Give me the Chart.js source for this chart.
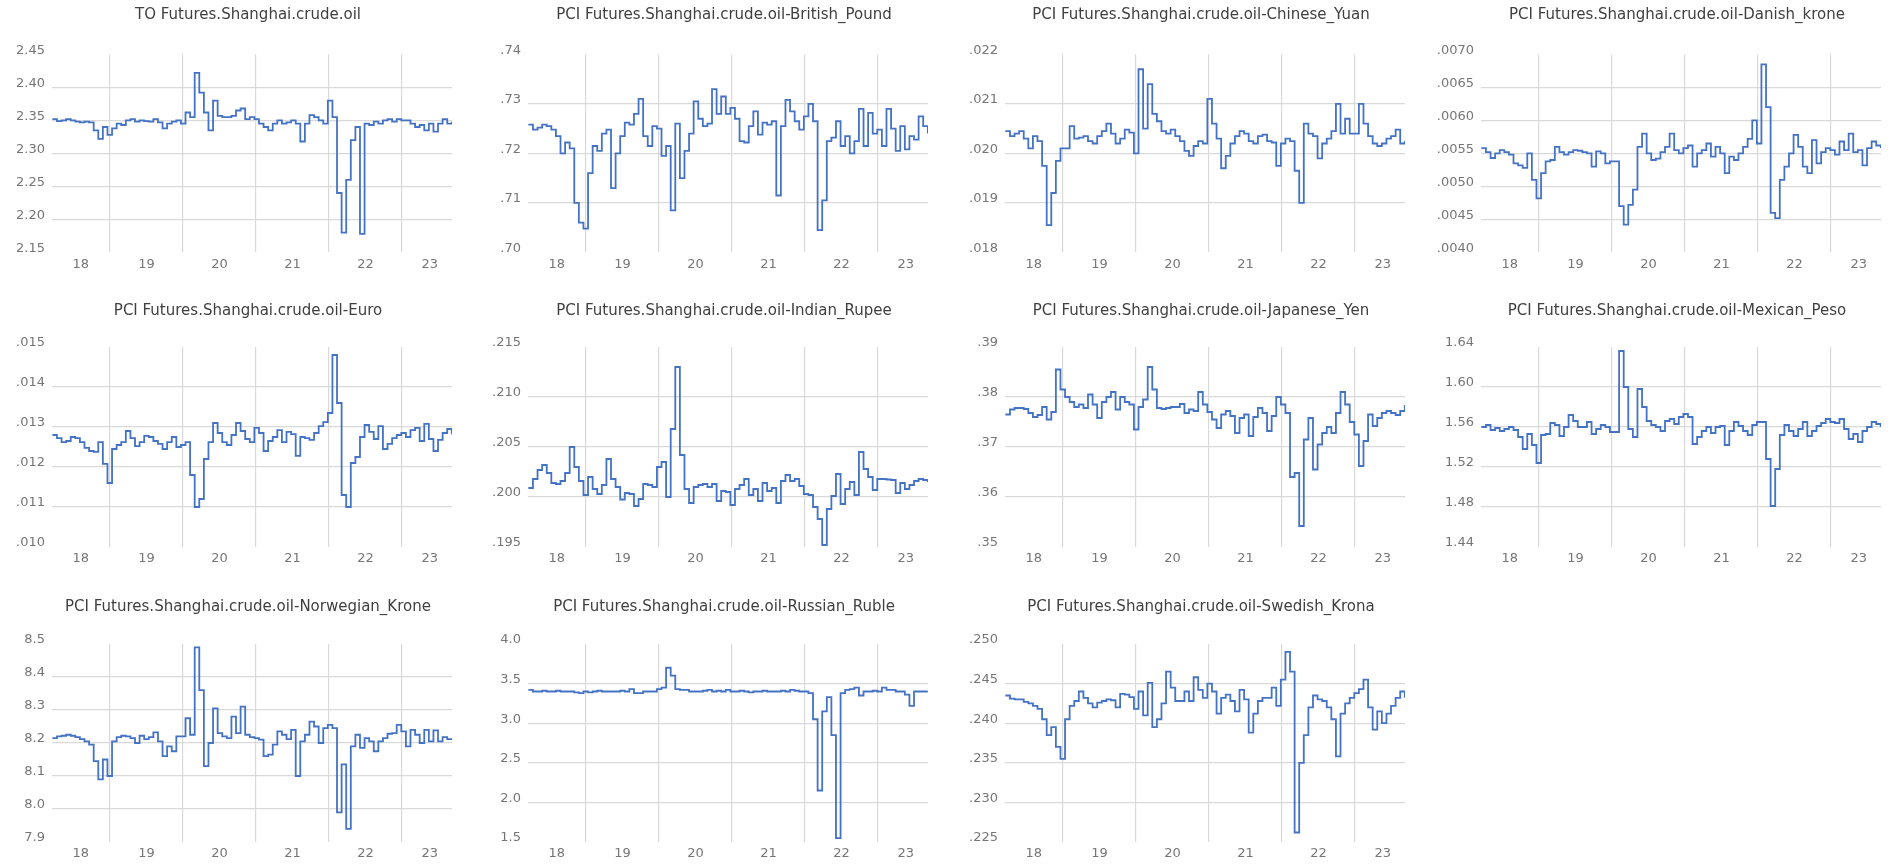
<!DOCTYPE html>
<html lang="en">
<head>
  <meta charset="UTF-8" />
  <title>PCI Futures - Shanghai crude oil</title>
  <script src="https://cdn.jsdelivr.net/npm/chart.js"></script>
  <style>
    * { box-sizing: border-box; margin: 0; padding: 0; }
    body {
      width: 1890px;
      height: 865px;
      background: #ffffff;
      position: relative;
      overflow: hidden;
      font-family: 'DejaVu Sans', sans-serif;
    }
    .panel {
      position: absolute;
      width: 496px;
    }
    .panel canvas { display: block; }
  </style>
</head>
<body>

  <script>
    // sampling of the series (decimal years), one value about every 23 days
    const firstSample = 2018.21;
    const sampleStep = 0.0629;

    // x axis: year boundaries and year labels
    const axisStart = 2018.205;
    const axisEnd = 2023.685;
    const yearLines = [2019, 2020, 2021, 2022, 2023];
    const yearLabels = ['18', '19', '20', '21', '22', '23'];
    const yearLabelAt = [2018.6, 2019.5, 2020.5, 2021.5, 2022.5, 2023.38];

    const seriesTO = [
      2.352, 2.349, 2.350, 2.352, 2.350, 2.348, 2.347, 2.348, 2.347, 2.335, 2.322, 2.340, 2.328,
      2.338, 2.345, 2.343, 2.350, 2.352, 2.348, 2.350, 2.349, 2.348, 2.352, 2.347, 2.338, 2.345, 2.348, 2.350, 2.345,
      2.362, 2.355, 2.422, 2.392, 2.362, 2.335, 2.380, 2.357, 2.355, 2.355, 2.357, 2.365, 2.368, 2.352, 2.355, 2.352,
      2.345, 2.340, 2.335, 2.345, 2.350, 2.345, 2.347, 2.350, 2.345, 2.318, 2.345, 2.358, 2.355, 2.350, 2.345, 2.380,
      2.355, 2.240, 2.180, 2.260, 2.320, 2.340, 2.178, 2.345, 2.343, 2.348, 2.345, 2.350, 2.352, 2.348, 2.352, 2.350,
      2.350, 2.345, 2.340, 2.343, 2.335, 2.345, 2.333, 2.345, 2.352, 2.345, 2.348
    ];
    const seriesGBP = [
      .7258, .7248, .7252, .7258, .7255, .7248, .7235, .7200, .7222, .7210, .7100, .7060, .7048,
      .7160, .7215, .7205, .7240, .7248, .7130, .7200, .7235, .7262, .7258, .7280, .7310, .7235, .7215, .7255, .7250,
      .7195, .7215, .7085, .7260, .7150, .7205, .7240, .7305, .7270, .7255, .7260, .7330, .7280, .7315, .7280, .7292,
      .7270, .7225, .7222, .7255, .7285, .7238, .7262, .7258, .7265, .7115, .7255, .7308, .7285, .7265, .7248, .7275,
      .7300, .7265, .7045, .7105, .7225, .7232, .7265, .7215, .7235, .7200, .7225, .7290, .7215, .7282, .7240, .7248,
      .7215, .7290, .7250, .7205, .7255, .7208, .7235, .7228, .7275, .7255, .7240
    ];
    const seriesCNY = [
      .02045, .02035, .02040, .02045, .02030, .02010, .02035, .02025, .01975, .01855, .01920, .01985, .02010,
      .02010, .02055, .02030, .02032, .02035, .02025, .02020, .02035, .02045, .02060, .02040, .02020, .02030, .02048, .02042, .02000,
      .02170, .02050, .02140, .02080, .02065, .02045, .02040, .02048, .02035, .02025, .02005, .01995, .02015, .02025, .02020, .02110,
      .02060, .02030, .01970, .01995, .02020, .02035, .02045, .02040, .02025, .02020, .02035, .02038, .02025, .02022, .01975, .02020,
      .02030, .02025, .01965, .01900, .02060, .02040, .02035, .01990, .02020, .02030, .02045, .02100, .02040, .02070, .02040, .02040,
      .02100, .02060, .02035, .02020, .02015, .02020, .02030, .02035, .02048, .02020, .02025
    ];
    const seriesDKK = [
      .00558, .00552, .00543, .00550, .00555, .00552, .00548, .00535, .00532, .00528, .00550, .00510, .00482,
      .00520, .00538, .00540, .00560, .00552, .00548, .00552, .00555, .00554, .00552, .00550, .00530, .00553, .00550, .00535, .00538,
      .00538, .00470, .00442, .00472, .00495, .00560, .00580, .00550, .00540, .00542, .00552, .00560, .00580, .00555, .00550, .00558,
      .00562, .00530, .00550, .00555, .00565, .00545, .00560, .00550, .00520, .00545, .00540, .00550, .00560, .00572, .00600, .00565,
      .00685, .00620, .00460, .00452, .00510, .00530, .00550, .00578, .00560, .00530, .00520, .00570, .00535, .00552, .00558, .00555,
      .00548, .00568, .00555, .00580, .00552, .00555, .00532, .00558, .00568, .00562, .00558
    ];
    const seriesEUR = [
      .01280, .01272, .01262, .01265, .01275, .01272, .01262, .01248, .01240, .01238, .01262, .01208, .01160,
      .01245, .01255, .01262, .01290, .01272, .01252, .01262, .01278, .01275, .01265, .01258, .01245, .01262, .01275, .01250, .01255,
      .01262, .01180, .01100, .01120, .01220, .01262, .01310, .01285, .01262, .01255, .01280, .01310, .01290, .01270, .01262, .01298,
      .01285, .01240, .01265, .01275, .01292, .01262, .01288, .01282, .01228, .01275, .01272, .01268, .01285, .01302, .01312, .01335,
      .01480, .01360, .01130, .01100, .01210, .01225, .01275, .01305, .01288, .01270, .01302, .01245, .01258, .01272, .01280, .01285,
      .01275, .01292, .01298, .01265, .01308, .01270, .01240, .01268, .01285, .01295, .01282
    ];
    const seriesINR = [
      .20090, .20180, .20270, .20320, .20240, .20140, .20130, .20160, .20240, .20500, .20300, .20160, .20020,
      .20200, .20080, .20030, .20120, .20380, .20180, .20100, .19975, .20040, .20030, .19910, .19980, .20130, .20120, .20100, .20300,
      .20350, .20000, .20680, .21300, .20420, .20080, .19940, .20100, .20120, .20130, .20100, .20130, .19960, .20060, .20050, .19920,
      .20080, .20120, .20180, .20020, .20080, .19960, .20140, .20060, .20090, .19940, .20160, .20220, .20160, .20180, .20110, .20030,
      .20020, .19900, .19780, .19520, .19880, .20010, .20230, .19930, .20080, .20150, .20020, .20450, .20280, .20200, .20070, .20180,
      .20180, .20175, .20170, .20040, .20140, .20080, .20120, .20160, .20180, .20170, .20150
    ];
    const seriesJPY = [
      .3765, .3775, .3778, .3778, .3776, .3768, .3760, .3764, .3780, .3755, .3770, .3855, .3815,
      .3800, .3790, .3780, .3785, .3778, .3805, .3785, .3758, .3790, .3800, .3810, .3775, .3800, .3790, .3785, .3735,
      .3780, .3795, .3860, .3815, .3778, .3776, .3778, .3780, .3780, .3786, .3768, .3775, .3772, .3810, .3785, .3770,
      .3755, .3738, .3765, .3772, .3762, .3728, .3758, .3765, .3722, .3760, .3778, .3768, .3732, .3762, .3800, .3785,
      .3768, .3640, .3648, .3542, .3715, .3758, .3655, .3705, .3728, .3740, .3728, .3768, .3810, .3785, .3750, .3725,
      .3662, .3712, .3765, .3742, .3758, .3768, .3772, .3768, .3764, .3772, .3784
    ];
    const seriesMXN = [
      1.560, 1.562, 1.557, 1.559, 1.556, 1.558, 1.560, 1.557, 1.550, 1.538, 1.553, 1.542, 1.524,
      1.552, 1.553, 1.564, 1.562, 1.551, 1.560, 1.572, 1.566, 1.560, 1.560, 1.565, 1.553, 1.558, 1.562, 1.560, 1.555,
      1.555, 1.636, 1.600, 1.558, 1.550, 1.598, 1.580, 1.566, 1.562, 1.560, 1.556, 1.566, 1.568, 1.563, 1.570, 1.573,
      1.570, 1.543, 1.550, 1.556, 1.560, 1.554, 1.560, 1.561, 1.542, 1.556, 1.565, 1.561, 1.556, 1.552, 1.562, 1.565,
      1.565, 1.528, 1.481, 1.518, 1.552, 1.562, 1.556, 1.551, 1.558, 1.565, 1.551, 1.556, 1.561, 1.564, 1.568, 1.565,
      1.564, 1.568, 1.558, 1.548, 1.553, 1.545, 1.556, 1.560, 1.565, 1.563, 1.560
    ];
    const seriesNOK = [
      8.215, 8.220, 8.222, 8.225, 8.222, 8.218, 8.212, 8.205, 8.195, 8.145, 8.090, 8.150, 8.100,
      8.205, 8.218, 8.222, 8.220, 8.215, 8.200, 8.222, 8.212, 8.218, 8.232, 8.205, 8.160, 8.190, 8.175, 8.220, 8.220,
      8.275, 8.225, 8.490, 8.360, 8.130, 8.200, 8.305, 8.230, 8.220, 8.215, 8.280, 8.230, 8.310, 8.225, 8.218, 8.215,
      8.210, 8.160, 8.165, 8.195, 8.235, 8.225, 8.212, 8.240, 8.100, 8.205, 8.225, 8.265, 8.250, 8.200, 8.245, 8.255,
      8.245, 7.990, 8.135, 7.940, 8.190, 8.225, 8.185, 8.215, 8.205, 8.175, 8.205, 8.215, 8.228, 8.230, 8.255, 8.235,
      8.190, 8.240, 8.225, 8.200, 8.240, 8.205, 8.238, 8.205, 8.218, 8.212, 8.208
    ];
    const seriesRUB = [
      3.42, 3.40, 3.40, 3.41, 3.40, 3.40, 3.41, 3.40, 3.40, 3.40, 3.39, 3.38, 3.40,
      3.39, 3.40, 3.41, 3.40, 3.40, 3.40, 3.40, 3.41, 3.40, 3.43, 3.38, 3.38, 3.40, 3.40, 3.40, 3.43,
      3.45, 3.70, 3.60, 3.43, 3.42, 3.42, 3.40, 3.40, 3.40, 3.41, 3.42, 3.40, 3.41, 3.40, 3.42, 3.40,
      3.40, 3.41, 3.40, 3.39, 3.40, 3.40, 3.41, 3.40, 3.40, 3.40, 3.41, 3.40, 3.42, 3.41, 3.40, 3.40,
      3.38, 3.05, 2.15, 3.15, 3.33, 2.85, 1.55, 3.38, 3.42, 3.43, 3.45, 3.35, 3.40, 3.40, 3.41, 3.40,
      3.45, 3.42, 3.42, 3.40, 3.40, 3.36, 3.22, 3.40, 3.40, 3.40, 3.40
    ];
    const seriesSEK = [
      .2435, .2431, .2430, .2430, .2427, .2425, .2422, .2418, .2405, .2385, .2395, .2370, .2355,
      .2405, .2422, .2428, .2440, .2432, .2425, .2420, .2426, .2428, .2430, .2429, .2420, .2437, .2436, .2433, .2418,
      .2440, .2410, .2451, .2395, .2405, .2425, .2465, .2445, .2428, .2428, .2440, .2428, .2458, .2442, .2432, .2450,
      .2440, .2412, .2432, .2436, .2428, .2415, .2442, .2430, .2388, .2412, .2428, .2432, .2432, .2445, .2422, .2455,
      .2490, .2465, .2262, .2350, .2385, .2420, .2435, .2430, .2428, .2420, .2405, .2358, .2412, .2425, .2432, .2438,
      .2443, .2455, .2420, .2392, .2415, .2400, .2412, .2422, .2432, .2440, .2432
    ];

    const panelTitles = [
      'TO Futures.Shanghai.crude.oil',
      'PCI Futures.Shanghai.crude.oil-British_Pound',
      'PCI Futures.Shanghai.crude.oil-Chinese_Yuan',
      'PCI Futures.Shanghai.crude.oil-Danish_krone',
      'PCI Futures.Shanghai.crude.oil-Euro',
      'PCI Futures.Shanghai.crude.oil-Indian_Rupee',
      'PCI Futures.Shanghai.crude.oil-Japanese_Yen',
      'PCI Futures.Shanghai.crude.oil-Mexican_Peso',
      'PCI Futures.Shanghai.crude.oil-Norwegian_Krone',
      'PCI Futures.Shanghai.crude.oil-Russian_Ruble',
      'PCI Futures.Shanghai.crude.oil-Swedish_Krona'
    ];
    const panelSeries = [seriesTO, seriesGBP, seriesCNY, seriesDKK, seriesEUR, seriesINR,
                         seriesJPY, seriesMXN, seriesNOK, seriesRUB, seriesSEK];
    const yMins = [2.15, .70, .018, .0040, .010, .195, .35, 1.44, 7.9, 1.5, .225];
    const yMaxs = [2.45, .74, .022, .0070, .015, .215, .39, 1.64, 8.5, 4.0, .250];
    const ySteps = [.05, .01, .001, .0005, .001, .005, .01, .04, .1, .5, .005];
    const yDecimals = [2, 2, 3, 4, 3, 3, 2, 2, 1, 1, 3];

    const dates = seriesTO.map((_, i) => firstSample + i * sampleStep);

    // grid of small charts
    const colLeft = [0, 476, 953, 1429];
    const rowTop = [2, 298, 594];
    const rowTitleGap = [30.4, 27, 28];
    const rowPlotHeight = [198, 200, 198];

    Chart.defaults.font.family = "'DejaVu Sans', sans-serif";

    function tickLabel(v, dec) {
      const s = v.toFixed(dec);
      return s.startsWith('0.') ? s.slice(1) : s;
    }

    panelTitles.forEach((title, p) => {
      const row = Math.floor(p / 4);
      const col = p % 4;

      const box = document.createElement('div');
      box.className = 'panel';
      box.style.left = colLeft[col] + 'px';
      box.style.top = rowTop[row] + 'px';
      box.style.height = (22 + rowTitleGap[row] + rowPlotHeight[row] + 26) + 'px';
      const canvas = document.createElement('canvas');
      box.appendChild(canvas);
      document.body.appendChild(box);

      const n = Math.round((yMaxs[p] - yMins[p]) / ySteps[p]);
      const yTicks = [];
      for (let k = 0; k <= n; k++) yTicks.push(+(yMins[p] + k * ySteps[p]).toFixed(6));

      new Chart(canvas, {
        type: 'line',
        data: {
          datasets: [{
            data: panelSeries[p].map((v, i) => ({ x: dates[i], y: v })),
            xAxisID: 'x',
            yAxisID: 'y',
            borderColor: '#4472C4',
            borderWidth: 1.8,
            pointRadius: 0,
            stepped: true,
            fill: false
          }]
        },
        options: {
          responsive: true,
          maintainAspectRatio: false,
          animation: false,
          layout: { padding: 0 },
          plugins: {
            legend: { display: false },
            tooltip: { enabled: false },
            title: {
              display: true,
              text: title,
              color: '#404040',
              font: { size: 15, weight: 'normal' },
              padding: { top: 4, bottom: rowTitleGap[row] }
            }
          },
          scales: {
            x: {
              type: 'linear',
              min: axisStart,
              max: axisEnd,
              afterBuildTicks: s => { s.ticks = yearLines.map(v => ({ value: v })); },
              afterFit: s => { s.height = 0; },
              ticks: { display: false },
              grid: { color: '#d9d9d9', lineWidth: 1.2, drawTicks: false },
              border: { display: false }
            },
            x2: {
              type: 'linear',
              axis: 'x',
              position: 'bottom',
              min: axisStart,
              max: axisEnd,
              afterBuildTicks: s => { s.ticks = yearLabelAt.map(v => ({ value: v })); },
              afterFit: s => { s.height = 26; },
              grid: { display: false, drawTicks: false },
              border: { display: false },
              ticks: {
                color: '#767676',
                font: { size: 13 },
                padding: 4,
                maxRotation: 0,
                autoSkip: false,
                callback: (v, i) => yearLabels[i]
              }
            },
            y: {
              type: 'linear',
              min: yMins[p],
              max: yMaxs[p],
              afterBuildTicks: s => { s.ticks = yTicks.map(v => ({ value: v })); },
              afterFit: s => { s.width = 52; },
              grid: {
                color: c => (c.index === 0 || c.index === yTicks.length - 1) ? 'rgba(0,0,0,0)' : '#d9d9d9',
                lineWidth: 1.2,
                drawTicks: false
              },
              border: { display: false },
              ticks: {
                color: '#767676',
                font: { size: 13 },
                padding: 7,
                labelOffset: -4,
                callback: v => tickLabel(v, yDecimals[p])
              }
            },
            yR: {
              type: 'linear',
              axis: 'y',
              position: 'right',
              afterFit: s => { s.width = 44; },
              ticks: { display: false },
              grid: { display: false, drawTicks: false },
              border: { display: false }
            }
          }
        }
      });
    });
  </script>
</body>
</html>
